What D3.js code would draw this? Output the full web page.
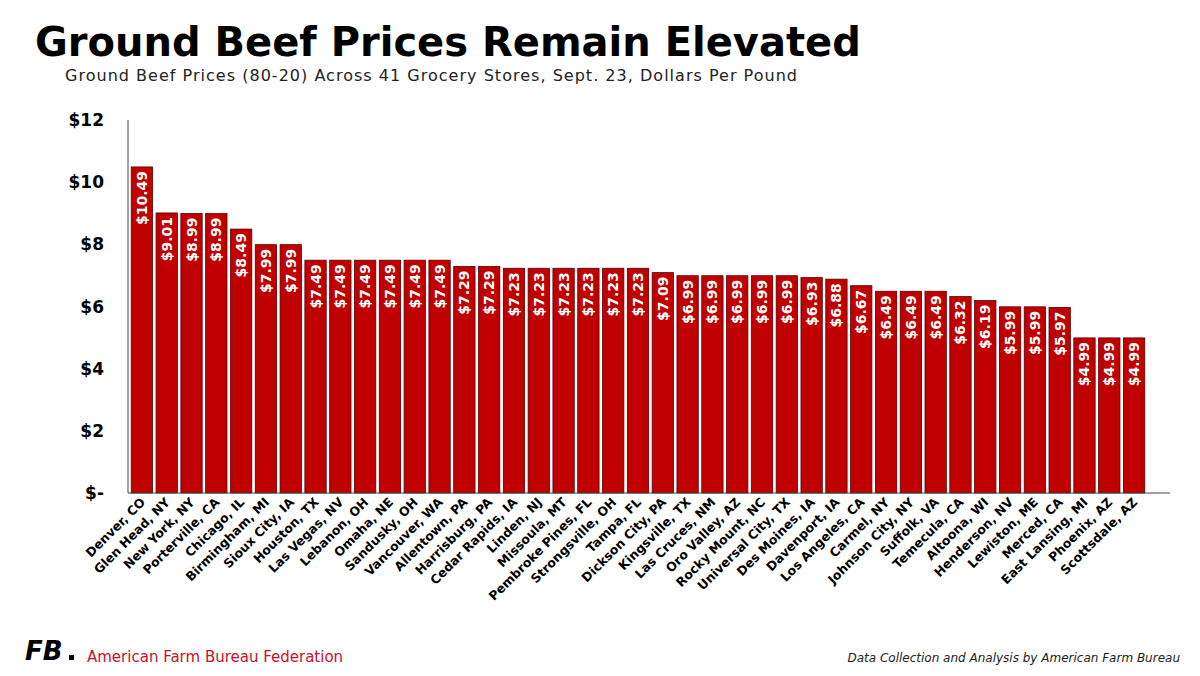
<!DOCTYPE html>
<html>
<head>
<meta charset="utf-8" />
<script src="https://cdn.jsdelivr.net/npm/d3@7"></script>
<style>
  body { margin: 0; background: #fff; }
  text { font-family: Verdana, "DejaVu Sans", sans-serif; }
</style>
</head>
<body>
<div id="chart"></div>
<script>
var cities = ["Denver, CO", "Glen Head, NY", "New York, NY", "Porterville, CA", "Chicago, IL", "Birmingham, MI",
  "Sioux City, IA", "Houston, TX", "Las Vegas, NV", "Lebanon, OH", "Omaha, NE", "Sandusky, OH", "Vancouver, WA",
  "Allentown, PA", "Harrisburg, PA", "Cedar Rapids, IA", "Linden, NJ", "Missoula, MT", "Pembroke Pines, FL",
  "Strongsville, OH", "Tampa, FL", "Dickson City, PA", "Kingsville, TX", "Las Cruces, NM", "Oro Valley, AZ",
  "Rocky Mount, NC", "Universal City, TX", "Des Moines, IA", "Davenport, IA", "Los Angeles, CA", "Carmel, NY",
  "Johnson City, NY", "Suffolk, VA", "Temecula, CA", "Altoona, WI", "Henderson, NV", "Lewiston, ME", "Merced, CA",
  "East Lansing, MI", "Phoenix, AZ", "Scottsdale, AZ"];
var prices = [10.49, 9.01, 8.99, 8.99, 8.49, 7.99, 7.99, 7.49, 7.49, 7.49, 7.49, 7.49, 7.49, 7.29, 7.29,
  7.23, 7.23, 7.23, 7.23, 7.23, 7.23, 7.09, 6.99, 6.99, 6.99, 6.99, 6.99, 6.93, 6.88, 6.67, 6.49, 6.49, 6.49,
  6.32, 6.19, 5.99, 5.99, 5.97, 4.99, 4.99, 4.99];
var yTicks = [0, 2, 4, 6, 8, 10, 12];

var width = 1200, height = 676;
var svg = d3.select("#chart").append("svg").attr("width", width).attr("height", height);

svg.append("text").attr("x", 35).attr("y", 56).attr("font-size", 40).attr("font-weight", "bold")
  .attr("fill", "#000")
  .text("Ground Beef Prices Remain Elevated");
svg.append("text").attr("x", 65).attr("y", 81).attr("font-size", 16).attr("fill", "#222")
  .attr("textLength", 732)
  .text("Ground Beef Prices (80-20) Across 41 Grocery Stores, Sept. 23,  Dollars Per Pound");

var x = d3.scaleBand().domain(cities).range([130, 1146]).paddingInner(0.14).paddingOuter(0.05);
var y = d3.scaleLinear().domain([0, 12]).range([493, 120]);

var g = svg.append("g");
g.selectAll("text.ytick").data(yTicks).enter().append("text")
  .attr("class", "ytick")
  .attr("x", 104).attr("y", function (d) { return y(d) + 6; })
  .attr("text-anchor", "end").attr("font-size", 17).attr("font-weight", "bold")
  .text(function (d) { return d === 0 ? "$-" : "$" + d; });

g.selectAll("rect").data(prices).enter().append("rect")
  .attr("x", function (d, i) { return x(cities[i]); })
  .attr("y", function (d) { return y(d); })
  .attr("width", x.bandwidth())
  .attr("height", function (d) { return y(0) - y(d); })
  .attr("fill", "#c00000").attr("stroke", "#5a0000").attr("stroke-width", 0.8);

g.selectAll("text.val").data(prices).enter().append("text")
  .attr("class", "val")
  .attr("transform", function (d, i) {
    return "translate(" + (x(cities[i]) + x.bandwidth() / 2 + 5) + "," + (y(d) + 4) + ") rotate(-90)";
  })
  .attr("text-anchor", "end").attr("font-size", 14).attr("font-weight", "bold").attr("fill", "#fff")
  .text(function (d) { return "$" + d.toFixed(2); });

g.append("line").attr("x1", 128).attr("x2", 1170).attr("y1", y(0)).attr("y2", y(0)).attr("stroke", "#444");
g.append("line").attr("x1", 128).attr("x2", 128).attr("y1", y(12)).attr("y2", y(0)).attr("stroke", "#444");

g.selectAll("text.cat").data(cities).enter().append("text")
  .attr("class", "cat")
  .attr("transform", function (d) {
    return "translate(" + (x(d) + x.bandwidth() / 2 + 4) + "," + (y(0) + 10) + ") rotate(-45)";
  })
  .attr("text-anchor", "end").attr("font-size", 12.5).attr("font-weight", "bold")
  .text(function (d) { return d; });

// footer
var logo = svg.append("g").attr("transform", "translate(25,640)");
logo.append("text").attr("x", 0).attr("y", 20).attr("font-size", 26).attr("font-weight", "bold")
  .attr("font-style", "italic").attr("fill", "#000").text("FB");
logo.append("rect").attr("x", 44).attr("y", 15).attr("width", 5).attr("height", 5).attr("fill", "#000");
svg.append("text").attr("x", 87).attr("y", 662).attr("font-size", 15).attr("fill", "#c8102e")
  .text("American Farm Bureau Federation");
svg.append("text").attr("x", 1180).attr("y", 662).attr("font-size", 12).attr("font-style", "italic")
  .attr("text-anchor", "end").attr("fill", "#222")
  .text("Data Collection and Analysis by American Farm Bureau");
</script>
</body>
</html>
